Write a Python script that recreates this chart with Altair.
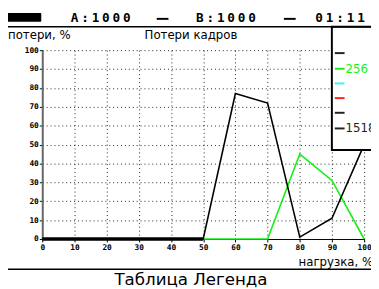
import altair as alt
import pandas as pd

# ---- data ----
loads = [0, 10, 20, 30, 40, 50, 60, 70, 80, 90, 100]
loss_1518 = [0, 0, 0, 0, 0, 0, 77, 72, 1, 11, 50]
loss_256 = [0, 0, 0, 0, 0, 0, 0, 0, 45, 31, 0]
loads_64 = [0, 10, 20, 30, 40, 50]
loss_64 = [0, 0, 0, 0, 0, 0]
legend_labels = ["", "256", "", "", "", "1518"]
legend_colors = ["#222222", "#18f018", "#40f0ff", "#ff2020", "#222222", "#222222"]
x_ticks = [0, 10, 20, 30, 40, 50, 60, 70, 80, 90, 100]
y_ticks = [0, 10, 20, 30, 40, 50, 60, 70, 80, 90, 100]
header_tokens = ["A:1000", "B:1000", "01:11"]

rows = []
for s, xs, ys in [("64", loads_64, loss_64), ("256", loads, loss_256), ("1518", loads, loss_1518)]:
    for x, y in zip(xs, ys):
        rows.append({"series": s, "load": x, "loss": y})
df = pd.DataFrame(rows)

W, H = 329, 193
one = alt.Data(values=[{}])

def P(px, py):
    # page pixel -> plot-area pixel
    return px - 43, py - 48

xaxis = alt.Axis(values=x_ticks, tickCount=11, grid=True, gridDash=[1, 3], gridColor="#222222",
                 domainColor="#000000", domainWidth=1, tickColor="#000000", tickSize=3,
                 labelFont="DejaVu Sans Mono", labelFontWeight="bold", labelFontSize=8,
                 labelColor="#000000", labelPadding=2, labelFlush=False, labelOverlap=False,
                 title=None)
yaxis = alt.Axis(values=y_ticks, tickCount=11, grid=True, gridDash=[1, 3], gridColor="#222222",
                 domainColor="#666666", domainWidth=2, tickColor="#000000", tickSize=3,
                 labelFont="DejaVu Sans Mono", labelFontWeight="bold", labelFontSize=8,
                 labelColor="#000000", labelPadding=1, labelOverlap=False, title=None)
xenc = alt.X("load:Q", scale=alt.Scale(domain=[0, 100], nice=False), axis=xaxis)
yenc = alt.Y("loss:Q", scale=alt.Scale(domain=[0, 100], nice=False), axis=yaxis)

base = alt.Chart(df)
green = base.transform_filter(alt.datum.series == "256").mark_line(
    color="#18f018", strokeWidth=1.7).encode(x=xenc, y=yenc)
black = base.transform_filter(alt.datum.series == "1518").mark_line(
    color="#000000", strokeWidth=1.6).encode(x=xenc, y=yenc)
thick = base.transform_filter(alt.datum.series == "64").mark_line(
    color="#000000", strokeWidth=3.5).encode(x=xenc, y=yenc)

layers = [green, black, thick]

def text(s, px, py, size=12, color="#000000", align="left", font="DejaVu Sans",
         weight="normal", baseline="middle"):
    x, y = P(px, py)
    return alt.Chart(one).mark_text(text=s, fontSize=size, color=color, align=align,
                                    font=font, fontWeight=weight, baseline=baseline).encode(
        x=alt.value(x), y=alt.value(y))

def rule(px1, px2, py1, py2, color="#000000", width=1.5):
    x1, y1 = P(px1, py1)
    x2, y2 = P(px2, py2)
    return alt.Chart(one).mark_rule(color=color, strokeWidth=width).encode(
        x=alt.value(x1), x2=alt.value(x2), y=alt.value(y1), y2=alt.value(y2))

# legend box (covers the plot)
bx1, by1 = P(339, 24)
bx2, by2 = P(390, 150)
layers.append(alt.Chart(one).mark_rect(fill="white", stroke="#000000", strokeWidth=2).encode(
    x=alt.value(bx1), x2=alt.value(bx2), y=alt.value(by1), y2=alt.value(by2)))
legend_y = [51, 67, 82, 97, 112, 128]
for lab, col, ly in zip(legend_labels, legend_colors, legend_y):
    layers.append(rule(342, 352, ly, ly, color=col, width=2))
    if lab:
        layers.append(text(lab, 353, ly, size=12, color=col))

# header
hx1, hy1 = P(0, 10)
hx2, hy2 = P(42, 19)
layers.append(alt.Chart(one).mark_rect(fill="#000000", cornerRadius=1).encode(
    x=alt.value(hx1), x2=alt.value(hx2), y=alt.value(hy1), y2=alt.value(hy2)))
starts = [76, 204, 326]
pitch = 10.7
for tok, st in zip(header_tokens, starts):
    for i, ch in enumerate(tok):
        layers.append(text(ch, st + i * pitch, 15, size=13, font="DejaVu Sans Mono",
                           weight="bold", align="center"))
layers.append(rule(160, 172, 16, 16, width=2))
layers.append(rule(290, 302, 16, 16, width=2))
layers.append(rule(0, 390, 24, 24, width=1.5))

# titles
layers.append(text("потери, %", 8, 33, size=12))
layers.append(text("Потери кадров", 195, 33, size=12, align="center"))
layers.append(text("нагрузка, %", 305, 265, size=12))
layers.append(rule(0, 390, 272, 272, width=1.5))
layers.append(text("Таблица Легенда", 195, 288, size=17, align="center", baseline="alphabetic"))

chart = alt.layer(*layers).properties(
    width=W, height=H,
    padding={"left": 35, "top": 40, "right": 7, "bottom": 48},
    autosize=alt.AutoSizeParams(type="none"),
    background="white",
).configure_view(stroke=None)

chart.save("out.html", embed_options={"renderer": "svg", "actions": False})
